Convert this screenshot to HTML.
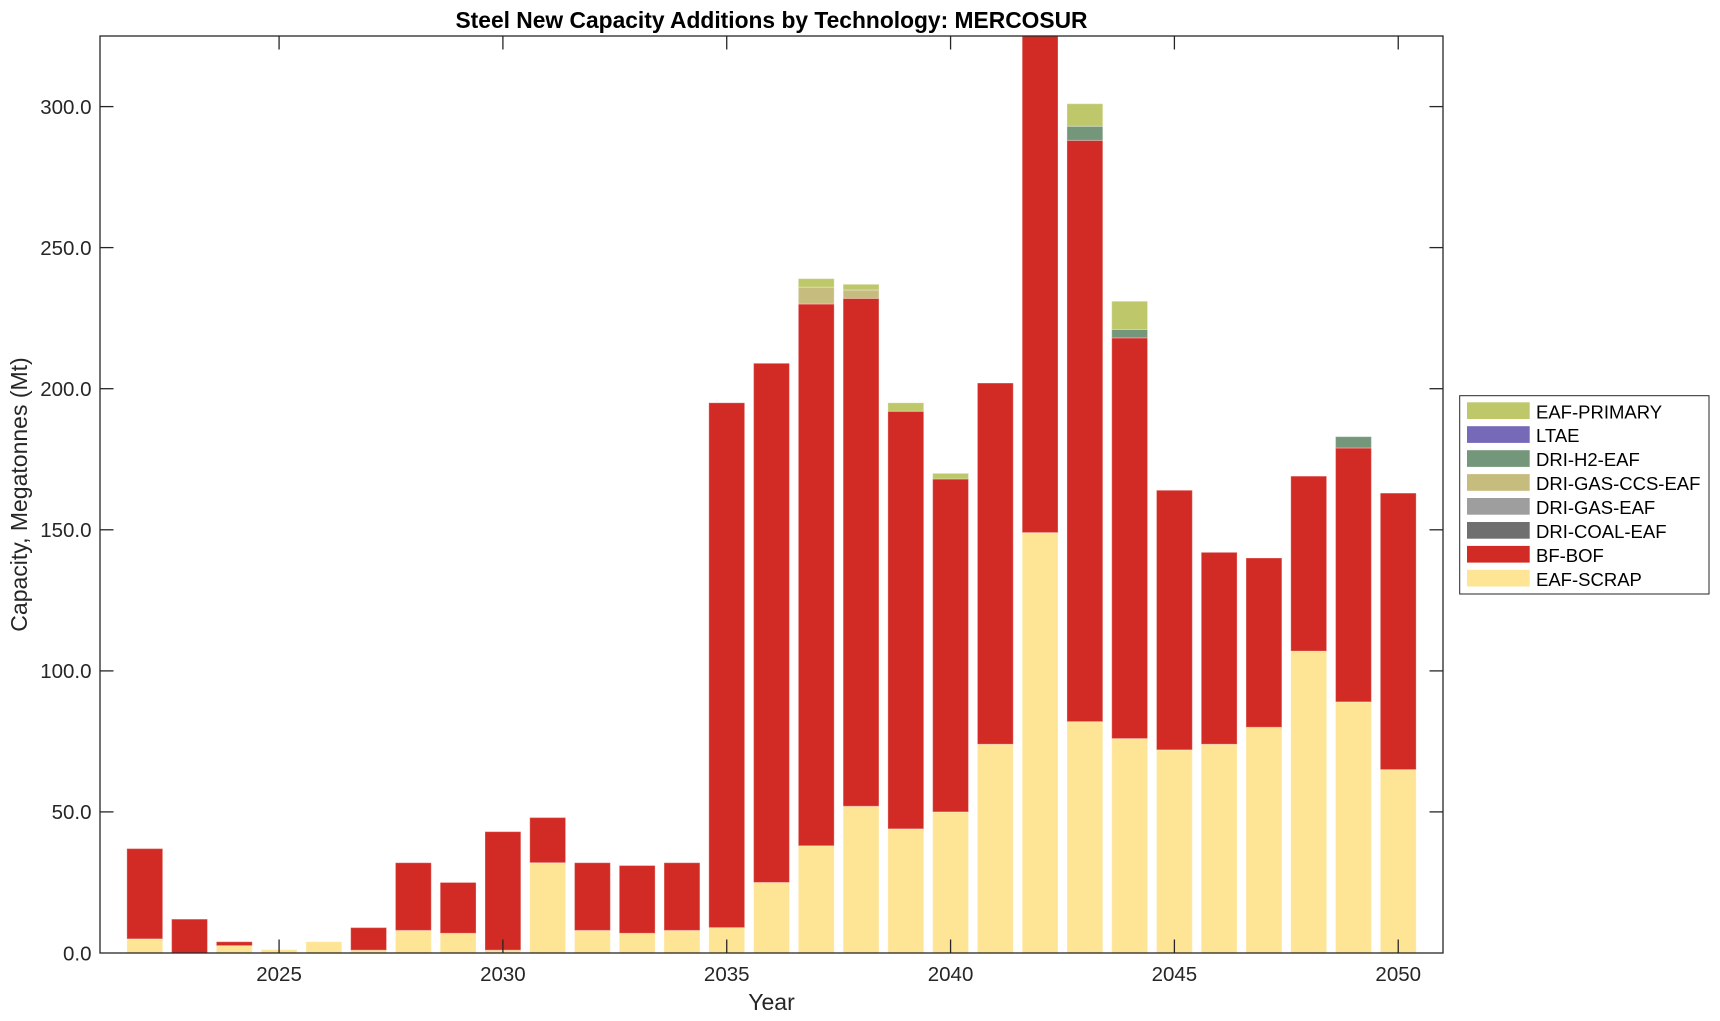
<!DOCTYPE html>
<html>
<head>
<meta charset="utf-8">
<style>
  html, body { margin: 0; padding: 0; background: #ffffff; }
  svg { display: block; }
  text { font-family: "Liberation Sans", Arial, Helvetica, sans-serif; }
</style>
</head>
<body>
<svg width="1720" height="1021" viewBox="0 0 1720 1021" xmlns="http://www.w3.org/2000/svg">
  <rect x="0" y="0" width="1720" height="1021" fill="#ffffff"/>
  <defs>
    <clipPath id="axclip">
      <rect x="100" y="36" width="1343" height="917"/>
    </clipPath>
  </defs>

  <!-- Bars -->
  <g clip-path="url(#axclip)">
    <g transform="translate(100,953) scale(44.767,-2.8215)" stroke="#ffffff" stroke-opacity="0.3" stroke-width="1">
      <!-- 2022 -->
      <rect x="0.6" y="0" width="0.8" height="5" fill="#fee495" vector-effect="non-scaling-stroke"/>
      <rect x="0.6" y="5" width="0.8" height="32" fill="#d22b25" vector-effect="non-scaling-stroke"/>
      <!-- 2023 -->
      <rect x="1.6" y="0" width="0.8" height="12" fill="#d22b25" vector-effect="non-scaling-stroke"/>
      <!-- 2024 -->
      <rect x="2.6" y="0" width="0.8" height="2.6" fill="#fee495" vector-effect="non-scaling-stroke"/>
      <rect x="2.6" y="2.6" width="0.8" height="1.4" fill="#d22b25" vector-effect="non-scaling-stroke"/>
      <!-- 2025 -->
      <rect x="3.6" y="0" width="0.8" height="1.2" fill="#fee495" vector-effect="non-scaling-stroke"/>
      <!-- 2026 -->
      <rect x="4.6" y="0" width="0.8" height="4" fill="#fee495" vector-effect="non-scaling-stroke"/>
      <!-- 2027 -->
      <rect x="5.6" y="0" width="0.8" height="1" fill="#fee495" vector-effect="non-scaling-stroke"/>
      <rect x="5.6" y="1" width="0.8" height="8" fill="#d22b25" vector-effect="non-scaling-stroke"/>
      <!-- 2028 -->
      <rect x="6.6" y="0" width="0.8" height="8" fill="#fee495" vector-effect="non-scaling-stroke"/>
      <rect x="6.6" y="8" width="0.8" height="24" fill="#d22b25" vector-effect="non-scaling-stroke"/>
      <!-- 2029 -->
      <rect x="7.6" y="0" width="0.8" height="7" fill="#fee495" vector-effect="non-scaling-stroke"/>
      <rect x="7.6" y="7" width="0.8" height="18" fill="#d22b25" vector-effect="non-scaling-stroke"/>
      <!-- 2030 -->
      <rect x="8.6" y="0" width="0.8" height="1" fill="#fee495" vector-effect="non-scaling-stroke"/>
      <rect x="8.6" y="1" width="0.8" height="42" fill="#d22b25" vector-effect="non-scaling-stroke"/>
      <!-- 2031 -->
      <rect x="9.6" y="0" width="0.8" height="32" fill="#fee495" vector-effect="non-scaling-stroke"/>
      <rect x="9.6" y="32" width="0.8" height="16" fill="#d22b25" vector-effect="non-scaling-stroke"/>
      <!-- 2032 -->
      <rect x="10.6" y="0" width="0.8" height="8" fill="#fee495" vector-effect="non-scaling-stroke"/>
      <rect x="10.6" y="8" width="0.8" height="24" fill="#d22b25" vector-effect="non-scaling-stroke"/>
      <!-- 2033 -->
      <rect x="11.6" y="0" width="0.8" height="7" fill="#fee495" vector-effect="non-scaling-stroke"/>
      <rect x="11.6" y="7" width="0.8" height="24" fill="#d22b25" vector-effect="non-scaling-stroke"/>
      <!-- 2034 -->
      <rect x="12.6" y="0" width="0.8" height="8" fill="#fee495" vector-effect="non-scaling-stroke"/>
      <rect x="12.6" y="8" width="0.8" height="24" fill="#d22b25" vector-effect="non-scaling-stroke"/>
      <!-- 2035 -->
      <rect x="13.6" y="0" width="0.8" height="9" fill="#fee495" vector-effect="non-scaling-stroke"/>
      <rect x="13.6" y="9" width="0.8" height="186" fill="#d22b25" vector-effect="non-scaling-stroke"/>
      <!-- 2036 -->
      <rect x="14.6" y="0" width="0.8" height="25" fill="#fee495" vector-effect="non-scaling-stroke"/>
      <rect x="14.6" y="25" width="0.8" height="184" fill="#d22b25" vector-effect="non-scaling-stroke"/>
      <!-- 2037 -->
      <rect x="15.6" y="0" width="0.8" height="38" fill="#fee495" vector-effect="non-scaling-stroke"/>
      <rect x="15.6" y="38" width="0.8" height="192" fill="#d22b25" vector-effect="non-scaling-stroke"/>
      <rect x="15.6" y="230" width="0.8" height="6" fill="#c6bc7e" vector-effect="non-scaling-stroke"/>
      <rect x="15.6" y="236" width="0.8" height="3" fill="#bec86a" vector-effect="non-scaling-stroke"/>
      <!-- 2038 -->
      <rect x="16.6" y="0" width="0.8" height="52" fill="#fee495" vector-effect="non-scaling-stroke"/>
      <rect x="16.6" y="52" width="0.8" height="180" fill="#d22b25" vector-effect="non-scaling-stroke"/>
      <rect x="16.6" y="232" width="0.8" height="3" fill="#c6bc7e" vector-effect="non-scaling-stroke"/>
      <rect x="16.6" y="235" width="0.8" height="2" fill="#bec86a" vector-effect="non-scaling-stroke"/>
      <!-- 2039 -->
      <rect x="17.6" y="0" width="0.8" height="44" fill="#fee495" vector-effect="non-scaling-stroke"/>
      <rect x="17.6" y="44" width="0.8" height="148" fill="#d22b25" vector-effect="non-scaling-stroke"/>
      <rect x="17.6" y="192" width="0.8" height="3" fill="#bec86a" vector-effect="non-scaling-stroke"/>
      <!-- 2040 -->
      <rect x="18.6" y="0" width="0.8" height="50" fill="#fee495" vector-effect="non-scaling-stroke"/>
      <rect x="18.6" y="50" width="0.8" height="118" fill="#d22b25" vector-effect="non-scaling-stroke"/>
      <rect x="18.6" y="168" width="0.8" height="2" fill="#bec86a" vector-effect="non-scaling-stroke"/>
      <!-- 2041 -->
      <rect x="19.6" y="0" width="0.8" height="74" fill="#fee495" vector-effect="non-scaling-stroke"/>
      <rect x="19.6" y="74" width="0.8" height="128" fill="#d22b25" vector-effect="non-scaling-stroke"/>
      <!-- 2042 -->
      <rect x="20.6" y="0" width="0.8" height="149" fill="#fee495" vector-effect="non-scaling-stroke"/>
      <rect x="20.6" y="149" width="0.8" height="250" fill="#d22b25" vector-effect="non-scaling-stroke"/>
      <!-- 2043 -->
      <rect x="21.6" y="0" width="0.8" height="82" fill="#fee495" vector-effect="non-scaling-stroke"/>
      <rect x="21.6" y="82" width="0.8" height="206" fill="#d22b25" vector-effect="non-scaling-stroke"/>
      <rect x="21.6" y="288" width="0.8" height="5" fill="#74977b" vector-effect="non-scaling-stroke"/>
      <rect x="21.6" y="293" width="0.8" height="8" fill="#bec86a" vector-effect="non-scaling-stroke"/>
      <!-- 2044 -->
      <rect x="22.6" y="0" width="0.8" height="76" fill="#fee495" vector-effect="non-scaling-stroke"/>
      <rect x="22.6" y="76" width="0.8" height="142" fill="#d22b25" vector-effect="non-scaling-stroke"/>
      <rect x="22.6" y="218" width="0.8" height="3" fill="#74977b" vector-effect="non-scaling-stroke"/>
      <rect x="22.6" y="221" width="0.8" height="10" fill="#bec86a" vector-effect="non-scaling-stroke"/>
      <!-- 2045 -->
      <rect x="23.6" y="0" width="0.8" height="72" fill="#fee495" vector-effect="non-scaling-stroke"/>
      <rect x="23.6" y="72" width="0.8" height="92" fill="#d22b25" vector-effect="non-scaling-stroke"/>
      <!-- 2046 -->
      <rect x="24.6" y="0" width="0.8" height="74" fill="#fee495" vector-effect="non-scaling-stroke"/>
      <rect x="24.6" y="74" width="0.8" height="68" fill="#d22b25" vector-effect="non-scaling-stroke"/>
      <!-- 2047 -->
      <rect x="25.6" y="0" width="0.8" height="80" fill="#fee495" vector-effect="non-scaling-stroke"/>
      <rect x="25.6" y="80" width="0.8" height="60" fill="#d22b25" vector-effect="non-scaling-stroke"/>
      <!-- 2048 -->
      <rect x="26.6" y="0" width="0.8" height="107" fill="#fee495" vector-effect="non-scaling-stroke"/>
      <rect x="26.6" y="107" width="0.8" height="62" fill="#d22b25" vector-effect="non-scaling-stroke"/>
      <!-- 2049 -->
      <rect x="27.6" y="0" width="0.8" height="89" fill="#fee495" vector-effect="non-scaling-stroke"/>
      <rect x="27.6" y="89" width="0.8" height="90" fill="#d22b25" vector-effect="non-scaling-stroke"/>
      <rect x="27.6" y="179" width="0.8" height="4" fill="#74977b" vector-effect="non-scaling-stroke"/>
      <!-- 2050 -->
      <rect x="28.6" y="0" width="0.8" height="65" fill="#fee495" vector-effect="non-scaling-stroke"/>
      <rect x="28.6" y="65" width="0.8" height="98" fill="#d22b25" vector-effect="non-scaling-stroke"/>
    </g>
  </g>

  <!-- Axes box -->
  <rect x="100" y="36" width="1343" height="917" fill="none" stroke="#262626" stroke-width="1.3"/>

  <!-- Ticks -->
  <g stroke="#262626" stroke-width="1.3">
    <line x1="279.07" y1="953" x2="279.07" y2="939.5"/>
    <line x1="502.90" y1="953" x2="502.90" y2="939.5"/>
    <line x1="726.73" y1="953" x2="726.73" y2="939.5"/>
    <line x1="950.57" y1="953" x2="950.57" y2="939.5"/>
    <line x1="1174.40" y1="953" x2="1174.40" y2="939.5"/>
    <line x1="1398.23" y1="953" x2="1398.23" y2="939.5"/>
    <line x1="279.07" y1="36" x2="279.07" y2="49.5"/>
    <line x1="502.90" y1="36" x2="502.90" y2="49.5"/>
    <line x1="726.73" y1="36" x2="726.73" y2="49.5"/>
    <line x1="950.57" y1="36" x2="950.57" y2="49.5"/>
    <line x1="1174.40" y1="36" x2="1174.40" y2="49.5"/>
    <line x1="1398.23" y1="36" x2="1398.23" y2="49.5"/>
    <line x1="100" y1="811.9" x2="113.5" y2="811.9"/>
    <line x1="100" y1="670.9" x2="113.5" y2="670.9"/>
    <line x1="100" y1="529.8" x2="113.5" y2="529.8"/>
    <line x1="100" y1="388.7" x2="113.5" y2="388.7"/>
    <line x1="100" y1="247.6" x2="113.5" y2="247.6"/>
    <line x1="100" y1="106.6" x2="113.5" y2="106.6"/>
    <line x1="1443" y1="811.9" x2="1429.5" y2="811.9"/>
    <line x1="1443" y1="670.9" x2="1429.5" y2="670.9"/>
    <line x1="1443" y1="529.8" x2="1429.5" y2="529.8"/>
    <line x1="1443" y1="388.7" x2="1429.5" y2="388.7"/>
    <line x1="1443" y1="247.6" x2="1429.5" y2="247.6"/>
    <line x1="1443" y1="106.6" x2="1429.5" y2="106.6"/>
  </g>

  <!-- Y tick labels -->
  <g font-size="20.5" fill="#262626" text-anchor="end">
    <text x="91.5" y="960.3">0.0</text>
    <text x="91.5" y="819.2">50.0</text>
    <text x="91.5" y="678.2">100.0</text>
    <text x="91.5" y="537.1">150.0</text>
    <text x="91.5" y="396.0">200.0</text>
    <text x="91.5" y="254.9">250.0</text>
    <text x="91.5" y="113.9">300.0</text>
  </g>

  <!-- X tick labels -->
  <g font-size="20.5" fill="#262626" text-anchor="middle">
    <text x="279.07" y="981">2025</text>
    <text x="502.90" y="981">2030</text>
    <text x="726.73" y="981">2035</text>
    <text x="950.57" y="981">2040</text>
    <text x="1174.40" y="981">2045</text>
    <text x="1398.23" y="981">2050</text>
  </g>

  <!-- Axis labels -->
  <text x="771.5" y="1010" font-size="23" fill="#262626" text-anchor="middle">Year</text>
  <text transform="translate(27,494.5) rotate(-90)" font-size="23" fill="#262626" text-anchor="middle">Capacity, Megatonnes (Mt)</text>

  <!-- Title -->
  <text x="771.5" y="28" font-size="22.8" font-weight="bold" fill="#000000" text-anchor="middle">Steel New Capacity Additions by Technology: MERCOSUR</text>

  <!-- Legend -->
  <rect x="1459.7" y="395.7" width="249.3" height="198.3" fill="#ffffff" stroke="#262626" stroke-width="1"/>
  <g>
    <rect x="1467" y="402.3" width="62.7" height="16.7" fill="#bec86a"/>
    <rect x="1467" y="426.2" width="62.7" height="16.7" fill="#7569b8"/>
    <rect x="1467" y="450.2" width="62.7" height="16.7" fill="#74977b"/>
    <rect x="1467" y="474.1" width="62.7" height="16.7" fill="#c6bc7e"/>
    <rect x="1467" y="498.0" width="62.7" height="16.7" fill="#9e9e9e"/>
    <rect x="1467" y="522.0" width="62.7" height="16.7" fill="#6f6f6f"/>
    <rect x="1467" y="545.9" width="62.7" height="16.7" fill="#d22b25"/>
    <rect x="1467" y="569.8" width="62.7" height="16.7" fill="#fee495"/>
  </g>
  <g font-size="18.5" fill="#000000">
    <text x="1536" y="418.3">EAF-PRIMARY</text>
    <text x="1536" y="442.2">LTAE</text>
    <text x="1536" y="466.2">DRI-H2-EAF</text>
    <text x="1536" y="490.1">DRI-GAS-CCS-EAF</text>
    <text x="1536" y="514.0">DRI-GAS-EAF</text>
    <text x="1536" y="538.0">DRI-COAL-EAF</text>
    <text x="1536" y="561.9">BF-BOF</text>
    <text x="1536" y="585.8">EAF-SCRAP</text>
  </g>
</svg>
</body>
</html>
